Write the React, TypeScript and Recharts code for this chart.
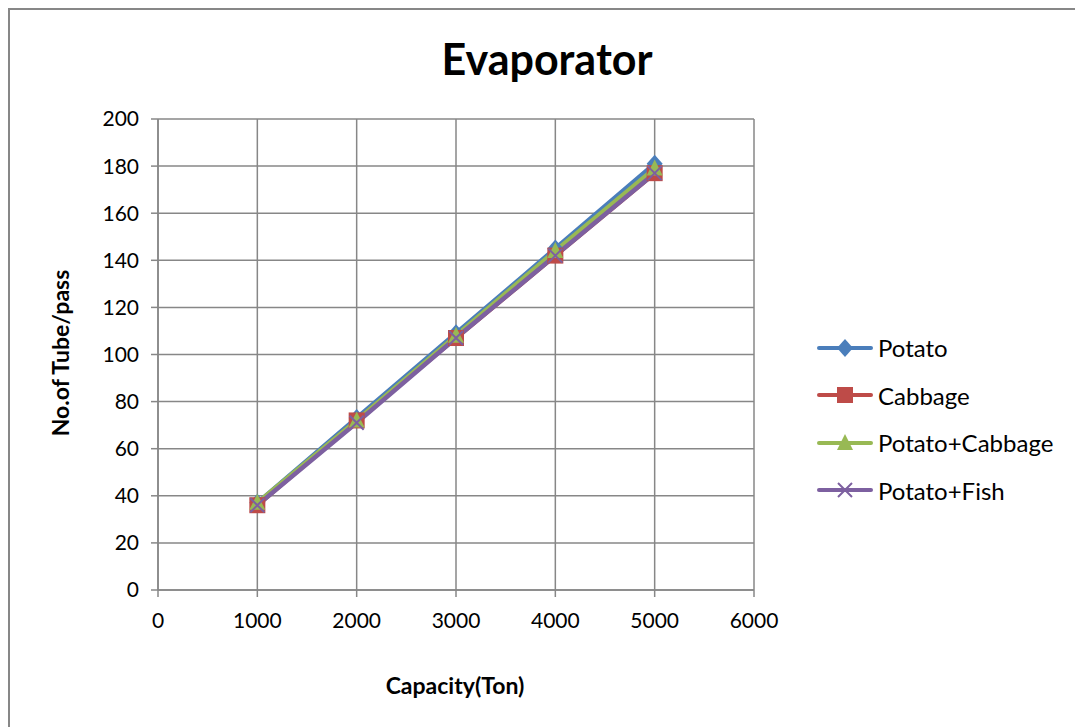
import { LineChart, Line, XAxis, YAxis, CartesianGrid } from "recharts"

const capacity = [1000, 2000, 3000, 4000, 5000]
const potato = [37, 73, 109, 145, 181]
const cabbage = [36, 72, 107, 142, 177]
const potatoCabbage = [37, 72, 108, 144, 179]
const potatoFish = [36, 71, 107, 142, 177]

const xTicks = [0, 1000, 2000, 3000, 4000, 5000, 6000]
const yTicks = [0, 20, 40, 60, 80, 100, 120, 140, 160, 180, 200]

const data = capacity.map((c, i) => ({
  capacity: c,
  potato: potato[i],
  cabbage: cabbage[i],
  potatoCabbage: potatoCabbage[i],
  potatoFish: potatoFish[i],
}))

const FONT = "Lato, 'Open Sans', sans-serif"
const GRID = "#878787"

const series = [
  { key: "potato", name: "Potato", color: "#4a7ebb", marker: "diamond" },
  { key: "cabbage", name: "Cabbage", color: "#be4b48", marker: "square" },
  { key: "potatoCabbage", name: "Potato+Cabbage", color: "#98b954", marker: "triangle" },
  { key: "potatoFish", name: "Potato+Fish", color: "#7d60a0", marker: "cross" },
]

const Marker = ({ cx, cy, type, color }: any) => {
  if (cx == null || cy == null) return null
  if (type === "diamond")
    return <path d={`M${cx},${cy - 9}L${cx + 8},${cy}L${cx},${cy + 9}L${cx - 8},${cy}Z`} fill={color} />
  if (type === "square") return <rect x={cx - 8} y={cy - 8} width={16} height={16} fill={color} />
  if (type === "triangle")
    return <path d={`M${cx},${cy - 9}L${cx + 8},${cy + 7}L${cx - 8},${cy + 7}Z`} fill={color} />
  return (
    <path
      d={`M${cx - 7},${cy - 7}L${cx + 7},${cy + 7}M${cx + 7},${cy - 7}L${cx - 7},${cy + 7}`}
      stroke={color}
      strokeWidth={2}
    />
  )
}

// legend drawn as plain html so it does not eat into the plot area
const ChartLegend = () => (
  <div style={{ position: "absolute", left: 806, top: 314, fontFamily: FONT, fontSize: 24, color: "#000" }}>
    {series.map((s) => (
      <div key={s.key} style={{ display: "flex", alignItems: "center", height: 47.5 }}>
        <svg width={62} height={24}>
          <line x1={3} y1={12} x2={55} y2={12} stroke={s.color} strokeWidth={4} strokeLinecap="round" />
          <Marker cx={29} cy={12} type={s.marker} color={s.color} />
        </svg>
        <span>{s.name}</span>
      </div>
    ))}
  </div>
)

export default function App() {
  return (
    // fixed so the frame can run to the window edges without scrollbars
    <div
      style={{
        position: "fixed",
        left: 8,
        top: 8,
        width: 1065,
        height: 717,
        overflow: "hidden",
        borderLeft: `2px solid ${GRID}`,
        borderTop: `2px solid ${GRID}`,
        background: "#fff",
        fontFamily: FONT,
      }}
    >
      <div
        style={{
          position: "absolute",
          top: 23,
          left: 237,
          width: 600,
          textAlign: "center",
          fontSize: 43,
          fontWeight: "bold",
        }}
      >
        Evaporator
      </div>
      <div
        style={{
          position: "absolute",
          left: 60 - 10 - 120,
          top: 353 - 10 - 14,
          width: 240,
          textAlign: "center",
          transform: "rotate(-90deg)",
          fontSize: 23,
          fontWeight: "bold",
        }}
      >
        No.of Tube/pass
      </div>
      <div
        style={{
          position: "absolute",
          left: 455 - 10 - 120,
          top: 661,
          width: 240,
          textAlign: "center",
          fontSize: 23,
          fontWeight: "bold",
        }}
      >
        Capacity(Ton)
      </div>
      <LineChart
        width={1065}
        height={705}
        data={data}
        margin={{ top: 109, right: 321, bottom: 25, left: 0 }}
        style={{ position: "absolute", left: 0, top: 0 }}
      >
        <CartesianGrid stroke={GRID} strokeWidth={1.5} />
        <XAxis
          dataKey="capacity"
          type="number"
          domain={[0, 6000]}
          ticks={xTicks}
          height={100}
          stroke={GRID}
          strokeWidth={1.5}
          tickSize={7}
          tick={{ fill: "#000", fontSize: 21, fontFamily: FONT, dy: 14 }}
        />
        <YAxis
          domain={[0, 200]}
          ticks={yTicks}
          width={148}
          stroke={GRID}
          strokeWidth={1.5}
          tickSize={7}
          tick={{ fill: "#000", fontSize: 21, fontFamily: FONT, dx: -10 }}
        />
        {series.map((s) => (
          <Line
            key={s.key}
            dataKey={s.key}
            name={s.name}
            stroke={s.color}
            strokeWidth={4.5}
            isAnimationActive={false}
            dot={(p: any) => <Marker key={`${s.key}-${p.index}`} cx={p.cx} cy={p.cy} type={s.marker} color={s.color} />}
            activeDot={false}
          />
        ))}
      </LineChart>
      <ChartLegend />
    </div>
  )
}
